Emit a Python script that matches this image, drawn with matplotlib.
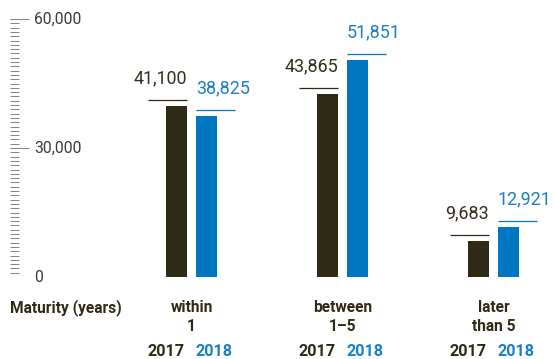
import numpy as np
import matplotlib
matplotlib.use("Agg")
import matplotlib.pyplot as plt
from matplotlib.transforms import blended_transform_factory

# Maturity profile, values per maturity bucket
categories = ["within\n1", "between\n1\u20135", "later\nthan 5"]
years = ["2017", "2018"]
values_2017 = [41100, 43865, 9683]
values_2018 = [38825, 51851, 12921]
ytick_values = [0, 30000, 60000]
ytick_labels = ["0", "30,000", "60,000"]
axis_title = "Maturity (years)"

DARK = "#2f2a16"
BLUE = "#0077c0"
BLUE_TXT = "#1a7fc6"
TICK = "#8a887c"
FONT = "Roboto"

W, H = 555, 359
fig = plt.figure(figsize=(W / 100, H / 100), dpi=100)
fig.patch.set_facecolor("white")

# axes: y = 0 at 277 px, y = 60000 at 19 px from the top
ax_bottom, ax_top = 277, 19
ax = fig.add_axes([0, (H - ax_bottom) / H, 1, (ax_bottom - ax_top) / H])
ax.set_axis_off()
ymax = 60000
ax.set_ylim(0, ymax)

# horizontal scale: 151 px between groups, first group centred at 191.5 px
px_per_group = 151.0
x0_px = 191.5
ax.set_xlim(-x0_px / px_per_group, (W - x0_px) / px_per_group)

px = 1.0 / px_per_group           # one pixel in x data units
py = ymax / (ax_bottom - ax_top)  # one pixel in y data units

bar_w = 21 * px
offset = 14.75 * px
gap = 5.5 * py
cap_len = 39 * px

# text rows below the plot, baselines in pixels from the top
def fy(p):
    return (H - p) / H

tx = blended_transform_factory(ax.transData, fig.transFigure)

x = np.arange(len(categories))
for i in x:
    v17, v18 = values_2017[i], values_2018[i]
    xb = i - offset
    xl = i + offset
    ax.bar(xb, v17 - gap, width=bar_w, color=DARK, linewidth=0)
    ax.bar(xl, v18 - gap, width=bar_w, color=BLUE, linewidth=0)
    # value markers
    ax.plot([xb + bar_w / 2 - cap_len, xb + bar_w / 2], [v17, v17],
            color=DARK, lw=0.9, solid_capstyle="butt")
    ax.plot([xl - bar_w / 2, xl - bar_w / 2 + cap_len], [v18, v18],
            color=BLUE, lw=0.9, solid_capstyle="butt")
    ax.annotate(f"{v17:,}", (xb + bar_w / 2, v17), xytext=(0, 12.3),
                textcoords="offset points", ha="right", va="baseline",
                fontsize=12.9, color="#332e1e", family=FONT)
    ax.annotate(f"{v18:,}", (xl - bar_w / 2, v18), xytext=(0, 12.3),
                textcoords="offset points", ha="left", va="baseline",
                fontsize=12.9, color=BLUE_TXT, family=FONT)

    # category name centred under the group, years under their bars
    line1, line2 = categories[i].split("\n")
    for txt, base in ((line1, 312.2), (line2, 331)):
        ax.text(i, fy(base), txt, transform=tx, ha="center", va="baseline",
                fontsize=11.2, fontweight="bold", color=DARK, family=FONT)
    ax.text(xb + bar_w / 2 - 2.5 * px, fy(356.5), years[0], transform=tx,
            ha="right", va="baseline", fontsize=11.6, fontweight="bold",
            color=DARK, family=FONT)
    ax.text(xl - bar_w / 2, fy(356.5), years[1], transform=tx,
            ha="left", va="baseline", fontsize=11.6, fontweight="bold",
            color=BLUE_TXT, family=FONT)

# ruler-style y axis: minor ticks every 1,000, long ticks at labels
tr = blended_transform_factory(fig.transFigure, ax.transData)
minor = np.arange(0, ymax + 1, 1000)
ax.hlines(minor, 10 / W, 19 / W, transform=tr, color=TICK, lw=0.75)
ax.hlines(ytick_values, 10 / W, 29 / W, transform=tr, color=TICK, lw=0.75)
for v, lab in zip(ytick_values, ytick_labels):
    ax.text(34 / W, v, lab, transform=tr, ha="left", va="center",
            fontsize=11.3, color="#3a3a36", family=FONT)

fig.text(10 / W, fy(312.2), axis_title, ha="left", va="baseline",
         fontsize=11.2, fontweight="bold", color=DARK, family=FONT)

fig.savefig("out.png", dpi=100)
